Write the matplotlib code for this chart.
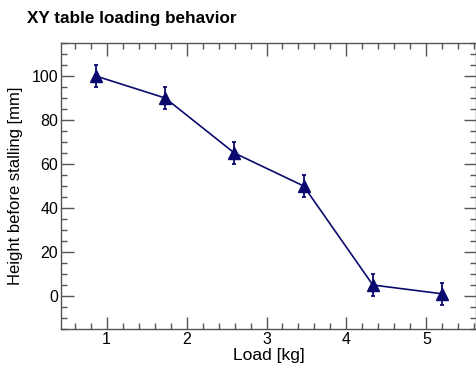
import numpy as np
import matplotlib.pyplot as plt
from matplotlib.ticker import MultipleLocator

# data
load_kg = [0.866, 1.732, 2.598, 3.464, 4.330, 5.196]
height_mm = [100, 90, 65, 50, 5, 1]
height_err = [5, 5, 5, 5, 5, 5]

line_color = "#0a0a6e"
axis_color = "#555555"

plt.rcParams.update({
    'font.family': ['Liberation Sans', 'DejaVu Sans'],
    'font.size': 11,
})

fig = plt.figure(figsize=(4.77, 3.67), dpi=100)
ax = fig.add_axes([61 / 477, 1 - 329 / 367, 415 / 477, 286 / 367])

ax.errorbar(load_kg, height_mm, yerr=height_err, color=line_color,
            linewidth=1.2, marker='^', markersize=8, elinewidth=1.3,
            capsize=1.5, capthick=1.3)

ax.set_xlim(0.43, 5.62)
ax.set_ylim(-15, 115)
ax.xaxis.set_major_locator(MultipleLocator(1))
ax.xaxis.set_minor_locator(MultipleLocator(0.2))
ax.yaxis.set_major_locator(MultipleLocator(20))
ax.yaxis.set_minor_locator(MultipleLocator(5))

ax.tick_params(which='both', direction='in', top=True, right=True,
               color=axis_color, labelsize=11.5, labelcolor='black')
ax.tick_params(which='major', length=9, width=1, pad=2)
ax.tick_params(which='minor', length=4, width=1)
for spine in ax.spines.values():
    spine.set_color(axis_color)
    spine.set_linewidth(1)

ax.set_xlabel('Load [kg]', fontsize=12.5, labelpad=1)
ax.set_ylabel('Height before stalling [mm]', fontsize=12, labelpad=6)
fig.text(27 / 477, 1 - 18 / 367, 'XY table loading behavior', fontsize=12.3,
         fontweight='bold', ha='left', va='center')

fig.savefig('out.png', dpi=100)
